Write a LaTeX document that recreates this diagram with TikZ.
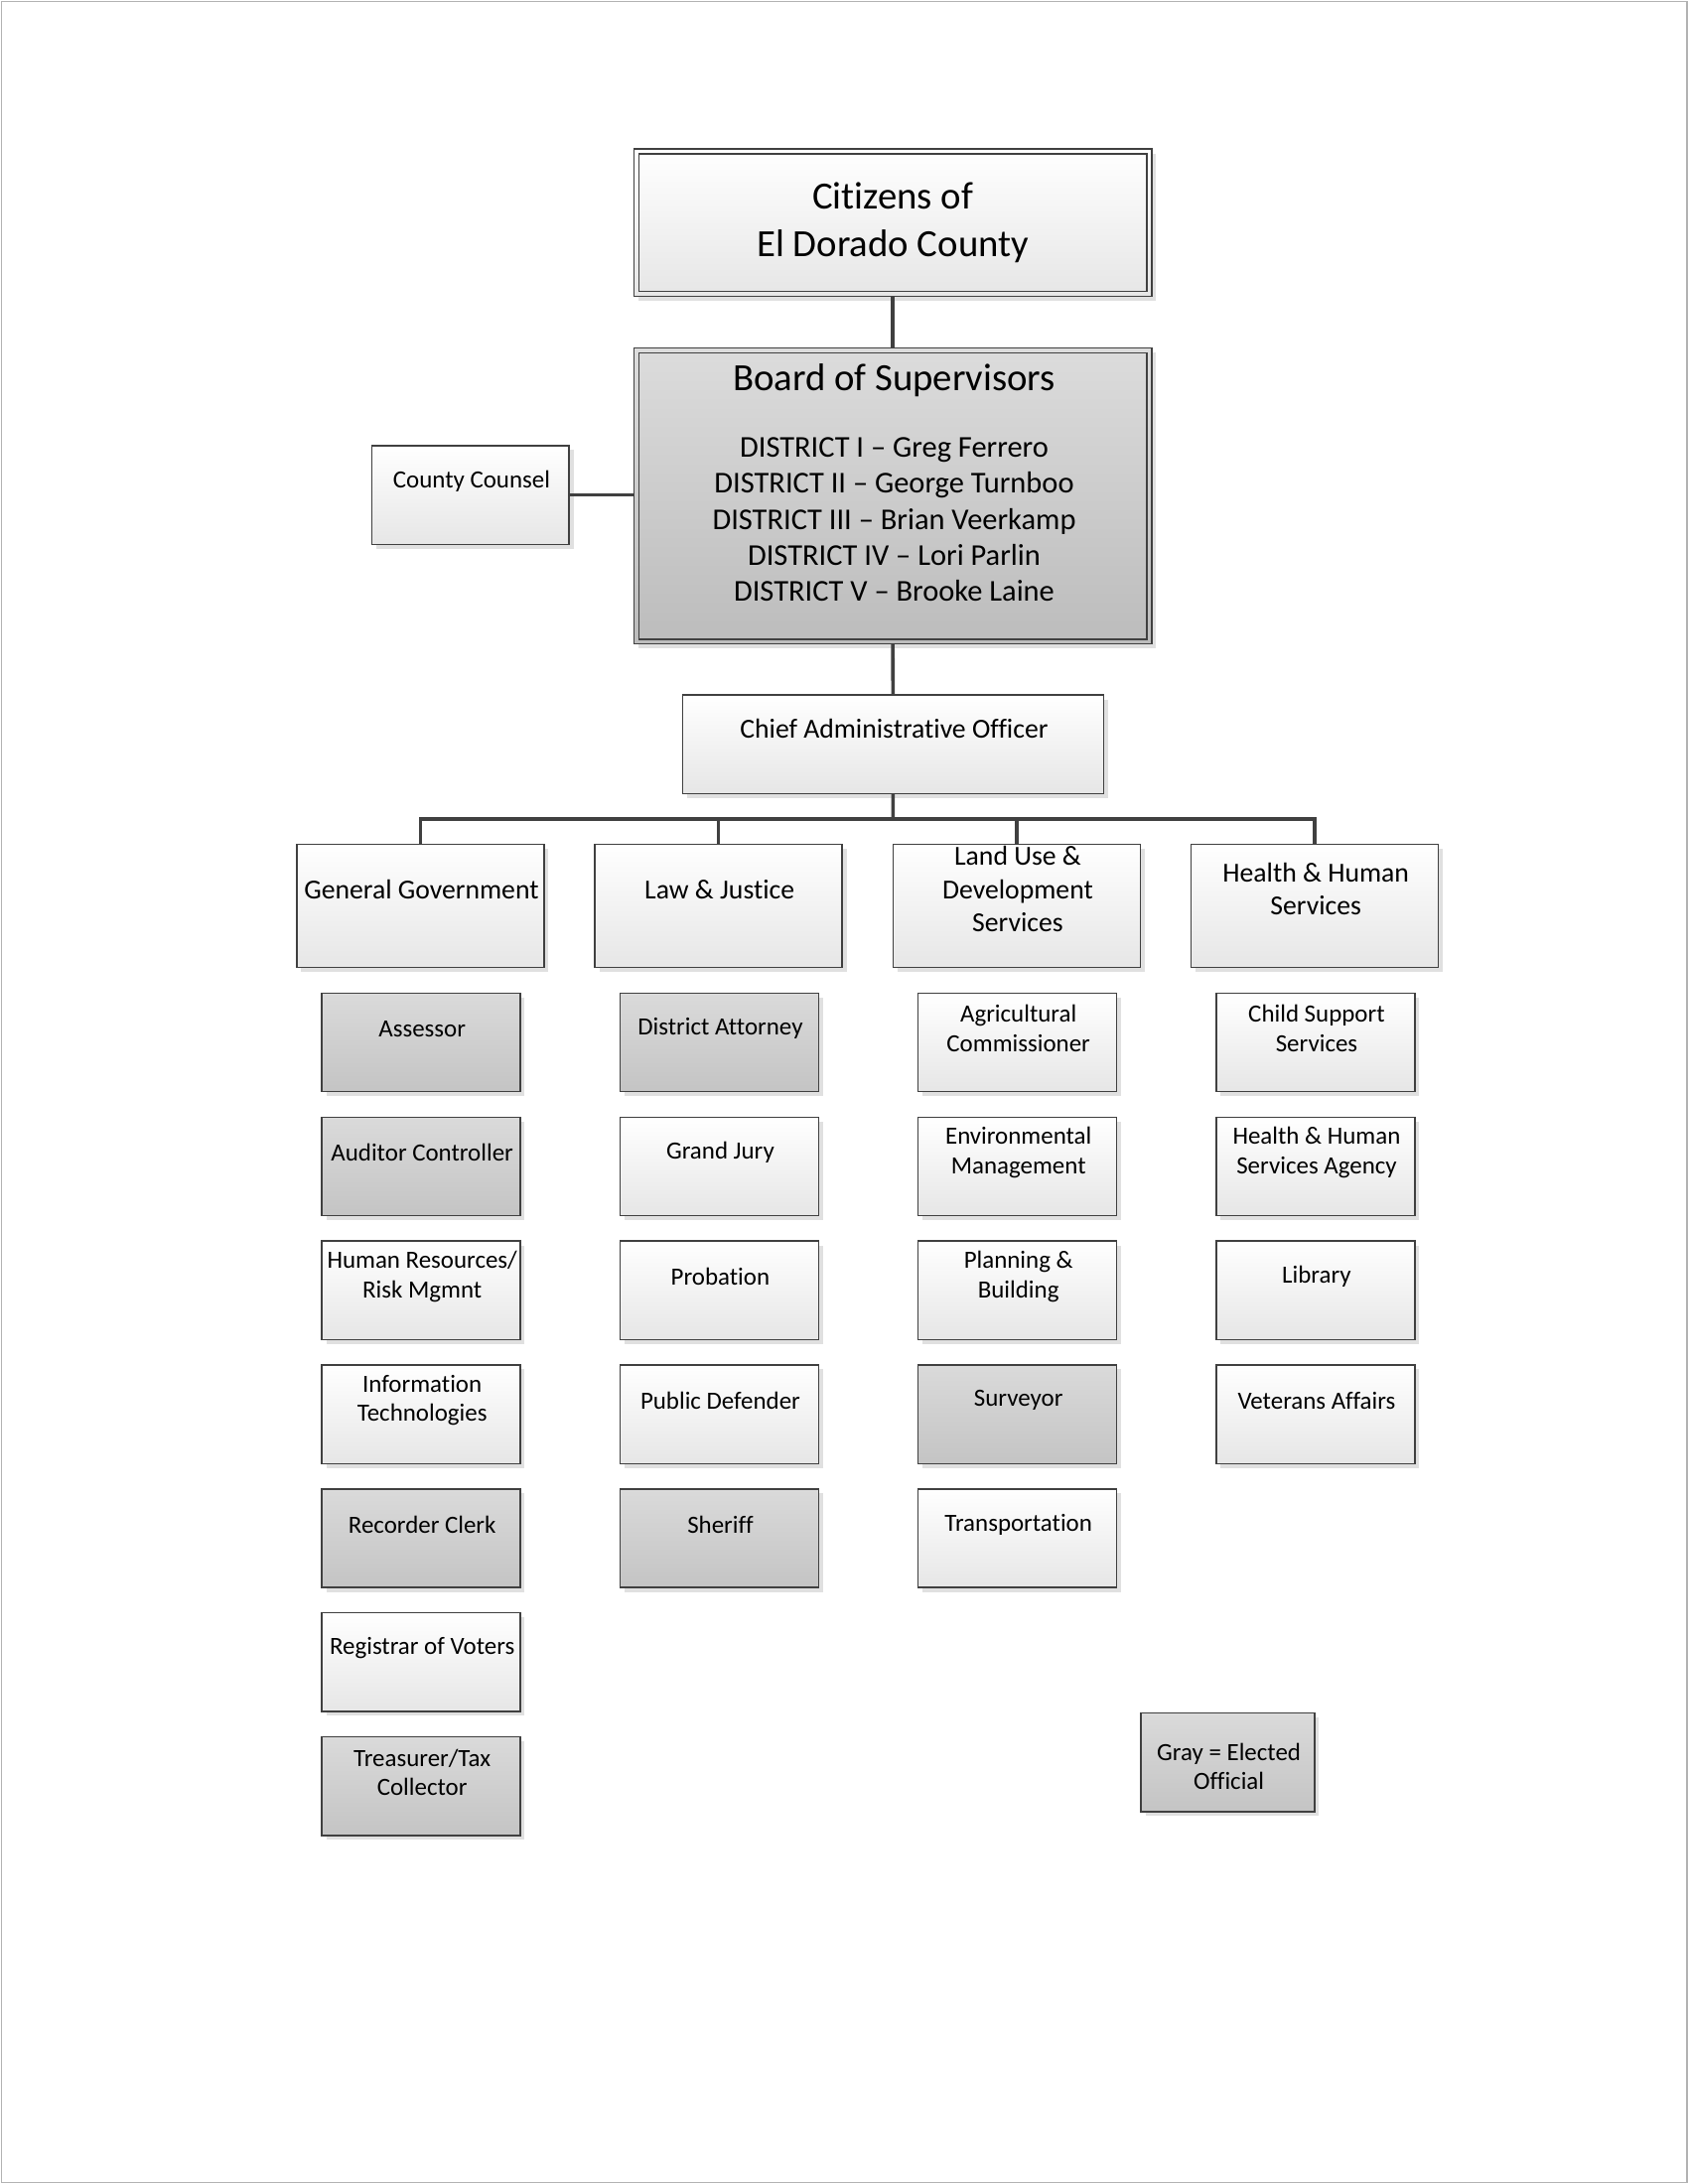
\documentclass[tikz,border=0pt]{standalone}
\usepackage{fontspec}
\setmainfont{Carlito}[Ligatures=NoCommon]
\usetikzlibrary{shadows}
\definecolor{edge}{HTML}{404040}
\definecolor{wbot}{HTML}{E6E6E6}
\definecolor{gtop}{HTML}{DADADA}
\definecolor{gbot}{HTML}{C4C4C4}
\definecolor{btop}{HTML}{DCDCDC}
\definecolor{bbot}{HTML}{BCBCBC}
\tikzset{
 boxbase/.style={draw=edge, line width=0.5pt, anchor=north west, inner sep=0pt, outer sep=0pt,
   drop shadow={shadow xshift=1.6pt, shadow yshift=-1.6pt, fill=black, opacity=0.12}},
 wfill/.style={top color=white, bottom color=wbot},
 gfill/.style={top color=gtop, bottom color=gbot},
 subbox/.style={boxbase, minimum width=72.2pt, minimum height=35.85pt},
 catbox/.style={boxbase, wfill, minimum width=89.9pt, minimum height=44.9pt},
 sublab/.style={anchor=center, yshift=-12.9pt, xshift=0.4pt, align=center, font=\fontsize{9}{10.6}\selectfont},
 catlab/.style={anchor=center, yshift=-16.4pt, xshift=0.4pt, align=center, font=\fontsize{10}{12.1}\selectfont},
 conn/.style={draw=edge, line width=1.3pt},
}
\begin{document}
\begin{tikzpicture}[x=0.017813cm, y=-0.017813cm]
\useasboundingbox (0,0) rectangle (1212,1568);
\fill[white] (0,0) rectangle (1212,1568);
\draw[black!30, line width=0.6pt] (1,1) rectangle (1211,1567);

% top
\node[boxbase, wfill, minimum width=188.3pt, minimum height=53.5pt, align=center,
  font=\fontsize{14}{17.2}\selectfont] (cit) at (455,107) {Citizens of\\El Dorado County};
\draw[edge, line width=0.5pt] ([shift={(3.5,3.5)}]cit.north west) rectangle ([shift={(-3.5,-3.5)}]cit.south east);

\node[boxbase, top color=btop, bottom color=bbot, minimum width=188.3pt, minimum height=107.6pt,
  label={[anchor=center, yshift=-11.6pt, xshift=0.5pt, font=\fontsize{14}{17}\selectfont]north:{Board of Supervisors}},
  label={[anchor=center, yshift=-62.3pt, xshift=0.5pt, align=center, font=\fontsize{11}{13.1}\selectfont]north:{DISTRICT I -- Greg Ferrero\\DISTRICT II -- George Turnboo\\DISTRICT III -- Brian Veerkamp\\DISTRICT IV -- Lori Parlin\\DISTRICT V -- Brooke Laine}}]
  (bos) at (455,250) {};
\draw[edge, line width=0.5pt] ([shift={(3.5,3.5)}]bos.north west) rectangle ([shift={(-3.5,-3.5)}]bos.south east);

\node[boxbase, wfill, minimum width=71.7pt, minimum height=35.85pt,
  label={[anchor=center, yshift=-13.1pt, xshift=0.4pt, font=\fontsize{9}{10.6}\selectfont]north:{County Counsel}}] (cc) at (267,320) {};

\node[boxbase, wfill, minimum width=153pt, minimum height=35.85pt,
  label={[anchor=center, yshift=-12.1pt, xshift=0.4pt, font=\fontsize{10}{12}\selectfont]north:{Chief Administrative Officer}}] (cao) at (490,499) {};

% categories
\node[catbox, label={[catlab]north:{General Government}}] (gg) at (213,606) {};
\node[catbox, label={[catlab]north:{Law \& Justice}}] (lj) at (427,606) {};
\node[catbox, label={[catlab]north:{Land Use \&\\Development\\Services}}] (lu) at (641,606) {};
\node[catbox, label={[catlab]north:{Health \& Human\\Services}}] (hhs) at (855,606) {};

% General Government
\node[subbox, gfill, label={[sublab]north:{Assessor}}] (asr) at (231,713) {};
\node[subbox, gfill, label={[sublab]north:{Auditor Controller}}] (aud) at (231,802) {};
\node[subbox, wfill, label={[sublab]north:{Human Resources/\\Risk Mgmnt}}] (hr) at (231,891) {};
\node[subbox, wfill, label={[sublab]north:{Information\\Technologies}}] (it) at (231,980) {};
\node[subbox, gfill, label={[sublab]north:{Recorder Clerk}}] (rec) at (231,1069) {};
\node[subbox, wfill, label={[sublab]north:{Registrar of Voters}}] (rov) at (231,1158) {};
\node[subbox, gfill, label={[sublab]north:{Treasurer/Tax\\Collector}}] (tax) at (231,1247) {};

% Law & Justice
\node[subbox, gfill, label={[sublab]north:{District Attorney}}] (da) at (445,713) {};
\node[subbox, wfill, label={[sublab]north:{Grand Jury}}] (gj) at (445,802) {};
\node[subbox, wfill, label={[sublab]north:{Probation}}] (prob) at (445,891) {};
\node[subbox, wfill, label={[sublab]north:{Public Defender}}] (pd) at (445,980) {};
\node[subbox, gfill, label={[sublab]north:{Sheriff}}] (sher) at (445,1069) {};

% Land Use
\node[subbox, wfill, label={[sublab]north:{Agricultural\\Commissioner}}] (ag) at (659,713) {};
\node[subbox, wfill, label={[sublab]north:{Environmental\\Management}}] (env) at (659,802) {};
\node[subbox, wfill, label={[sublab]north:{Planning \&\\Building}}] (plan) at (659,891) {};
\node[subbox, gfill, label={[sublab]north:{Surveyor}}] (surv) at (659,980) {};
\node[subbox, wfill, label={[sublab]north:{Transportation}}] (trans) at (659,1069) {};

% HHS
\node[subbox, wfill, label={[sublab]north:{Child Support\\Services}}] (css) at (873,713) {};
\node[subbox, wfill, label={[sublab]north:{Health \& Human\\Services Agency}}] (hhsa) at (873,802) {};
\node[subbox, wfill, label={[sublab]north:{Library}}] (lib) at (873,891) {};
\node[subbox, wfill, label={[sublab]north:{Veterans Affairs}}] (vet) at (873,980) {};

% legend
\node[boxbase, gfill, minimum width=63.1pt, minimum height=35.85pt,
  label={[anchor=center, yshift=-19.4pt, xshift=0.4pt, align=center, font=\fontsize{9}{10.6}\selectfont]north:{Gray = Elected\\Official}}] (leg) at (819,1230) {};

% connectors
\draw[conn] (cit.south) -- (bos.north);
\draw[conn] (cc.east) -- (bos.west |- cc.east);
\draw[conn] (bos.south) -- (cao.north);
\coordinate (bus) at (641,588);
\draw[conn] (cao.south) -- (bus);
\draw[conn] (gg.north) |- (bus) -| (hhs.north);
\draw[conn] (lj.north) -- (lj.north |- bus);
\draw[conn] (lu.north) -- (lu.north |- bus);
\end{tikzpicture}
\end{document}
